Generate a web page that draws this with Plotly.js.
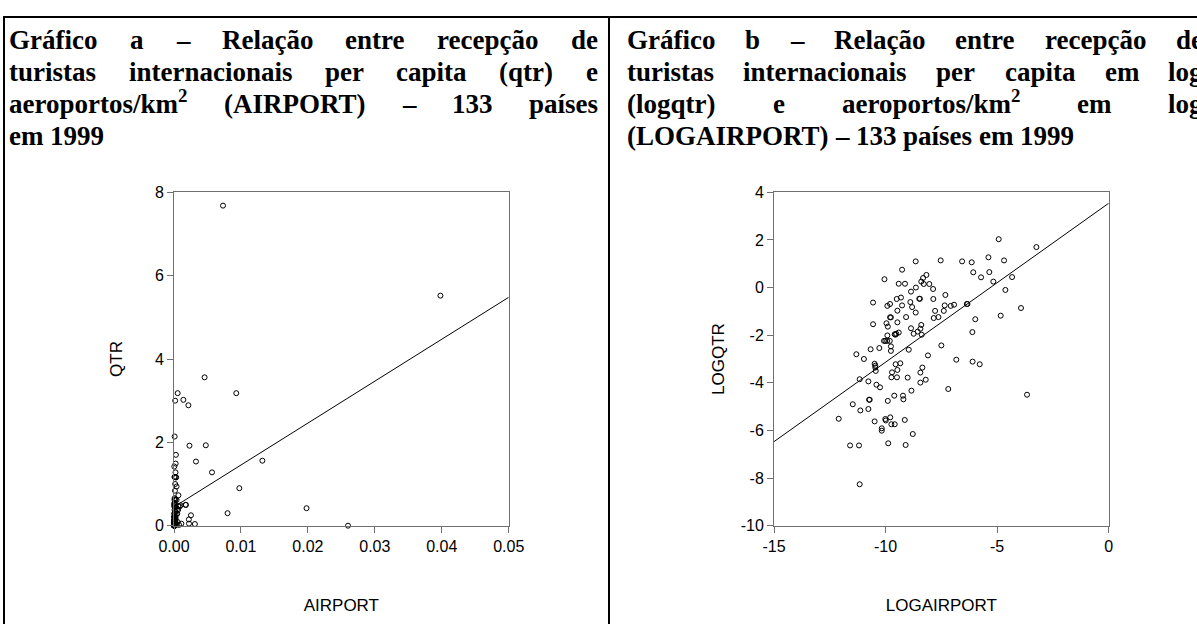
<!DOCTYPE html>
<html><head><meta charset="utf-8">
<script src="https://cdn.plot.ly/plotly-3.0.1.min.js"></script>
<style>html,body{margin:0;padding:0;background:#fff;overflow:hidden}#chart{width:1197px;height:624px}</style>
</head><body><div id="chart"></div><script>
// ---------- data ----------
const titleA = ["Gráfico a – Relação entre recepção de",
  "turistas internacionais per capita (qtr) e",
  "aeroportos/km<sup>2</sup> (AIRPORT) – 133 países",
  "em 1999"];
const titleB = ["Gráfico b – Relação entre recepção de",
  "turistas internacionais per capita em log",
  "(logqtr) e aeroportos/km<sup>2</sup> em log",
  "(LOGAIRPORT) – 133 países em 1999"];

const airport = [0.00732,0.0398,0.000175,0.00055,0.0014,0.00215,0.00457,0.0093,0.000095,0.00231,0.00475,0.00328,0.0132,0.00568,0.000043,0.000283,0.000244,0.000225,0.000251,0.000322,0.000082,0.000108,0.000177,0.000382,0.00976,0.000142,0.000075,0.000091,0.000205,0.000212,0.000386,0.000662,0.000026,0.000056,0.000049,0.000138,0.000095,0.000149,0.000643,0.000842,0.000978,0.00173,0.00178,0.0198,0.000077,0.000418,0.000617,0.000175,0.000056,0.000058,0.000114,0.000394,0.000486,0.00253,0.0080,0.000026,0.000047,0.00005,0.000077,0.000142,0.000225,0.000216,0.000192,0.000082,0.000073,0.000068,0.00007,0.00016,0.000229,0.00222,0.000049,0.000042,0.000045,0.000049,0.000055,0.000034,0.000058,0.000023,0.000058,0.000128,0.000553,0.000012,0.000304,0.000017,0.0011,0.00224,0.00312,0.000028,0.000029,0.000029,0.000071,0.000088,0.000237,0.000029,0.000061,0.000077,0.000216,0.000014,0.000021,0.000059,0.000076,0.000122,0.000275,0.000216,0.00003,0.000035,0.000145,0.000754,0.0260,0.000067,0.000099,0.000101,0.000022,0.000022,0.00005,0.00001,0.000015,0.000021,0.0000056,0.000028,0.000046,0.000045,0.000056,0.000107,0.000059,0.000068,0.000038,0.000038,0.000154,0.0000093,0.000014,0.000051,0.000112,0.000014];
const qtr = [7.68,5.52,3.00,3.18,3.02,2.89,3.56,3.18,2.14,1.92,1.93,1.54,1.56,1.28,1.42,1.70,1.49,1.28,1.16,1.16,1.17,1.17,1.00,0.94,0.90,0.84,0.62,0.66,0.63,0.63,0.62,0.73,0.53,0.50,0.46,0.54,0.47,0.44,0.47,0.46,0.49,0.50,0.50,0.42,0.38,0.38,0.38,0.35,0.29,0.29,0.29,0.28,0.29,0.25,0.30,0.21,0.22,0.19,0.23,0.18,0.21,0.18,0.16,0.15,0.14,0.14,0.14,0.14,0.14,0.15,0.13,0.11,0.11,0.11,0.11,0.079,0.085,0.075,0.07,0.074,0.088,0.061,0.058,0.050,0.048,0.05,0.04,0.041,0.038,0.035,0.040,0.042,0.035,0.030,0.028,0.031,0.028,0.021,0.019,0.023,0.023,0.023,0.021,0.018,0.017,0.015,0.013,0.02,0.0,0.011,0.011,0.0092,0.009,0.009,0.0086,0.0074,0.0057,0.0061,0.004,0.0036,0.0038,0.004,0.0043,0.0038,0.0032,0.0032,0.0027,0.0025,0.0021,0.0013,0.0013,0.0014,0.0013,0.00026];

const logairport = [-4.93,-3.24,-8.65,-7.53,-6.57,-6.14,-5.39,-4.69,-9.26,-6.07,-5.35,-5.72,-4.33,-5.17,-10.05,-8.17,-8.32,-8.40,-8.29,-8.04,-9.41,-9.13,-8.64,-7.87,-4.63,-8.86,-9.50,-9.31,-8.49,-8.46,-7.86,-7.32,-10.56,-9.80,-9.92,-8.89,-9.26,-8.81,-7.35,-7.08,-6.93,-6.36,-6.33,-3.93,-9.47,-7.78,-7.39,-8.65,-9.80,-9.76,-9.08,-7.84,-7.63,-5.98,-4.84,-10.56,-9.96,-9.90,-9.47,-8.86,-8.40,-8.44,-8.56,-9.41,-9.52,-9.59,-9.56,-8.74,-8.38,-6.11,-9.92,-10.07,-10.01,-9.93,-9.81,-10.28,-9.76,-10.67,-9.76,-8.96,-7.50,-11.31,-8.10,-10.97,-6.83,-6.10,-5.78,-10.49,-10.46,-10.46,-9.55,-9.34,-8.35,-10.44,-9.71,-9.47,-8.44,-11.16,-10.77,-9.74,-9.49,-9.01,-8.20,-8.44,-10.41,-10.25,-8.84,-7.19,-3.66,-9.61,-9.22,-9.20,-10.74,-10.71,-9.90,-11.47,-11.13,-10.77,-12.10,-10.49,-9.99,-10.01,-9.79,-9.14,-9.74,-9.59,-10.17,-10.17,-8.78,-11.59,-11.19,-9.88,-9.10,-11.16];
const logqtr = [2.03,1.70,1.10,1.14,1.10,1.06,1.27,1.14,0.75,0.64,0.65,0.43,0.44,0.25,0.35,0.53,0.40,0.25,0.15,0.15,0.16,0.16,0.00,-0.06,-0.10,-0.17,-0.48,-0.42,-0.47,-0.47,-0.48,-0.31,-0.63,-0.69,-0.77,-0.61,-0.75,-0.82,-0.75,-0.77,-0.72,-0.69,-0.69,-0.86,-0.97,-0.98,-0.98,-1.05,-1.25,-1.25,-1.24,-1.28,-1.24,-1.33,-1.18,-1.54,-1.50,-1.64,-1.46,-1.71,-1.57,-1.73,-1.85,-1.89,-1.94,-1.96,-1.98,-1.94,-1.98,-1.87,-2.01,-2.24,-2.24,-2.24,-2.24,-2.54,-2.47,-2.59,-2.66,-2.61,-2.43,-2.80,-2.85,-3.00,-3.03,-3.11,-3.22,-3.20,-3.28,-3.36,-3.22,-3.18,-3.36,-3.50,-3.56,-3.46,-3.57,-3.85,-3.94,-3.77,-3.77,-3.78,-3.87,-3.99,-4.08,-4.19,-4.33,-4.26,-4.50,-4.54,-4.54,-4.69,-4.71,-4.71,-4.76,-4.90,-5.16,-5.10,-5.51,-5.62,-5.58,-5.52,-5.45,-5.56,-5.74,-5.74,-5.91,-6.01,-6.15,-6.63,-6.63,-6.54,-6.61,-8.26];

// fitted regression lines (endpoints)
const fitA_x = [0, 0.05];
const fitA_y = [0.45, 5.48];
const fitB_x = [-15, 0];
const fitB_y = [-6.47, 3.54];

// tick labels
const tickA_x = [0, 0.01, 0.02, 0.03, 0.04, 0.05];
const tickA_xt = ["0.00","0.01","0.02","0.03","0.04","0.05"];
const tickA_y = [0, 2, 4, 6, 8];
const tickA_yt = ["0","2","4","6","8"];
const tickB_x = [-15, -10, -5, 0];
const tickB_xt = ["-15","-10","-5","0"];
const tickB_y = [-10, -8, -6, -4, -2, 0, 2, 4];
const tickB_yt = ["-10","-8","-6","-4","-2","0","2","4"];

// ---------- layout ----------
const FW = 1197, FH = 624;
const PX = p => p / FW, PY = p => 1 - p / FH;
const TITLE_FS = 27;
const SERIF = '"Liberation Serif", "Times New Roman", serif';
const SANS = '"Liberation Sans", Arial, sans-serif';
const ctx = document.createElement('canvas').getContext('2d');
function measure(word) {
  const m = word.match(/^(.*?)<sup>(.*?)<\/sup>(.*)$/);
  ctx.font = `bold ${TITLE_FS}px "Liberation Serif"`;
  if (!m) return ctx.measureText(word).width;
  let w = ctx.measureText(m[1] + m[3]).width;
  ctx.font = `bold ${TITLE_FS * 0.7}px "Liberation Serif"`;
  return w + ctx.measureText(m[2]).width;
}
function titleAnnotations(lines, x0, width, baselines) {
  const out = [];
  const sp = measure(' ');
  lines.forEach((line, i) => {
    const words = line.split(' ');
    const ws = words.map(measure);
    const total = ws.reduce((a, b) => a + b, 0);
    const justify = i < lines.length - 1 && words.length > 1;
    const gap = justify ? (width - total) / (words.length - 1) : sp;
    let x = x0;
    words.forEach((w, j) => {
      out.push({
        text: w, xref: 'paper', yref: 'paper', x: PX(x), y: PY(baselines[i] + 6),
        xanchor: 'left', yanchor: 'bottom', showarrow: false, borderpad: 0, borderwidth: 0,
        font: {family: SERIF, size: TITLE_FS, color: '#000', weight: 'bold'}
      });
      x += ws[j] + gap;
    });
  });
  return out;
}
const baselines = [49, 81, 113, 145];
const annotations = [
  ...titleAnnotations(titleA, 9, 589, baselines),
  ...titleAnnotations(titleB, 627, 576, baselines)
];

const AX = '#707070';
const tickfont = {family: SANS, size: 16, color: '#000'};
const titlefont = {family: SANS, size: 17, color: '#000'};
function axis(extra) {
  return Object.assign({
    ticks: 'outside', ticklen: 6, tickwidth: 1, tickcolor: AX,
    showline: true, linecolor: AX, linewidth: 1, mirror: true,
    showgrid: false, zeroline: false, tickfont: tickfont, fixedrange: true
  }, extra);
}
const yTop = 192.3, yBot = 525.7;
const layout = {
  width: FW, height: FH, margin: {l: 0, r: 0, t: 0, b: 0},
  paper_bgcolor: '#fff', plot_bgcolor: '#fff', showlegend: false,
  xaxis: axis({domain: [PX(174), PX(508.7)], range: [0, 0.05], tickmode: 'array', tickvals: tickA_x, ticktext: tickA_xt,
    anchor: 'y', title: {text: 'AIRPORT', font: titlefont, standoff: 45}}),
  yaxis: axis({domain: [PY(yBot), PY(yTop)], range: [0, 8], tickmode: 'array', tickvals: tickA_y, ticktext: tickA_yt,
    anchor: 'x', title: {text: 'QTR', font: titlefont, standoff: 27}}),
  xaxis2: axis({domain: [PX(774), PX(1108.7)], range: [-15, 0], tickmode: 'array', tickvals: tickB_x, ticktext: tickB_xt,
    anchor: 'y2', title: {text: 'LOGAIRPORT', font: titlefont, standoff: 45}}),
  yaxis2: axis({domain: [PY(yBot), PY(yTop)], range: [-10, 4], tickmode: 'array', tickvals: tickB_y, ticktext: tickB_yt,
    anchor: 'x2', title: {text: 'LOGQTR', font: titlefont, standoff: 11}}),
  annotations: annotations,
  shapes: [
    {type: 'line', xref: 'paper', yref: 'paper', x0: PX(3), x1: PX(1200), y0: PY(17), y1: PY(17), line: {color: '#000', width: 2}},
    {type: 'line', xref: 'paper', yref: 'paper', x0: PX(4), x1: PX(4), y0: PY(16), y1: PY(630), line: {color: '#000', width: 2}},
    {type: 'line', xref: 'paper', yref: 'paper', x0: PX(609), x1: PX(609), y0: PY(16), y1: PY(630), line: {color: '#000', width: 2}}
  ]
};
const marker = {symbol: 'circle-open', size: 5, color: '#000', line: {width: 1, color: '#000'}};
const data = [
  {type: 'scatter', mode: 'markers', x: airport, y: qtr, xaxis: 'x', yaxis: 'y', marker: marker, cliponaxis: false, hoverinfo: 'skip'},
  {type: 'scatter', mode: 'lines', x: fitA_x, y: fitA_y, xaxis: 'x', yaxis: 'y', line: {color: '#000', width: 1}, hoverinfo: 'skip'},
  {type: 'scatter', mode: 'markers', x: logairport, y: logqtr, xaxis: 'x2', yaxis: 'y2', marker: marker, cliponaxis: false, hoverinfo: 'skip'},
  {type: 'scatter', mode: 'lines', x: fitB_x, y: fitB_y, xaxis: 'x2', yaxis: 'y2', line: {color: '#000', width: 1}, hoverinfo: 'skip'}
];
Plotly.newPlot('chart', data, layout, {staticPlot: true, displayModeBar: false});
</script></body></html>
